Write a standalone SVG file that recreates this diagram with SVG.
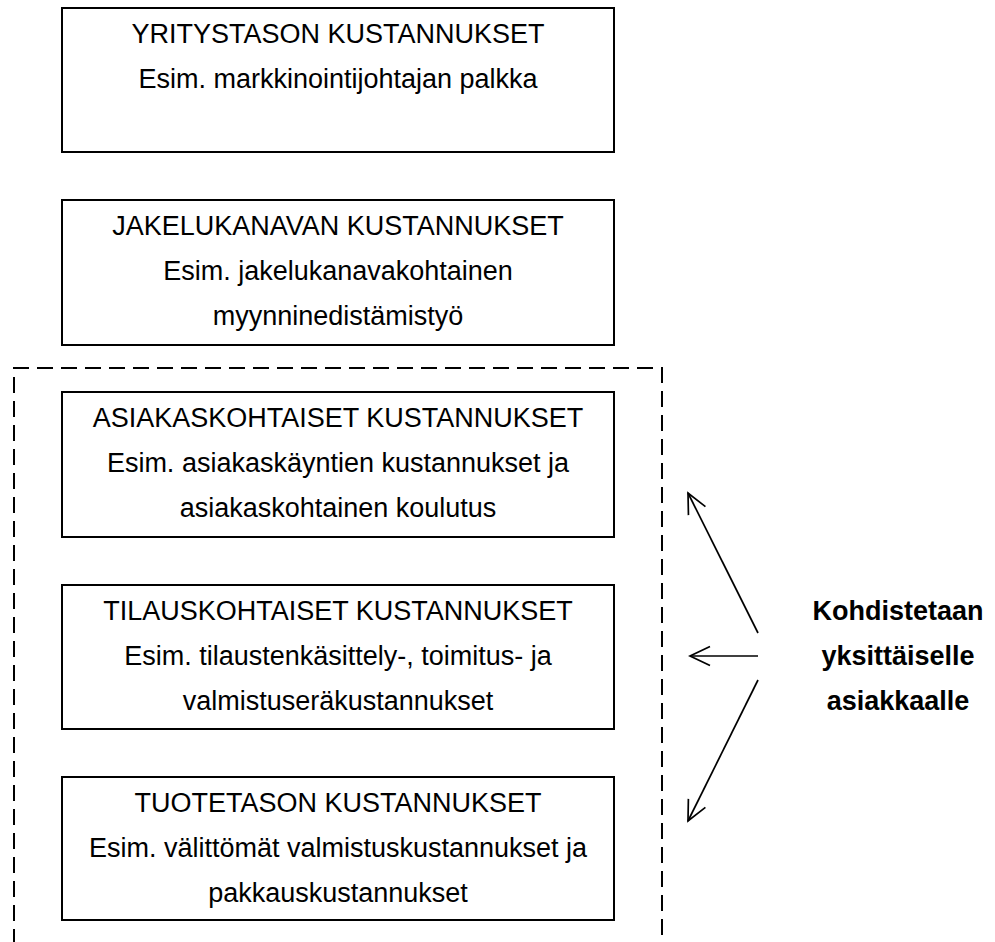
<svg xmlns="http://www.w3.org/2000/svg" width="995" height="942" viewBox="0 0 995 942">
  <style>
    .box { fill: #ffffff; stroke: #000000; stroke-width: 2; }
    .frame { fill: none; stroke: #000000; stroke-width: 2; stroke-dasharray: 16 8; }
    .t { font-family: "Liberation Sans", Arial, sans-serif; font-size: 27px; fill: #000000; text-anchor: middle; }
    .b { font-weight: bold; }
    .arrow { fill: none; stroke: #000000; stroke-width: 1.7; }
  </style>
  <defs>
    <marker id="open" markerWidth="24" markerHeight="24" refX="21" refY="11" orient="auto" markerUnits="userSpaceOnUse">
      <path d="M1,1.5 L21,11 L1,20.5" fill="none" stroke="#000000" stroke-width="1.7"/>
    </marker>
  </defs>
  <rect width="995" height="942" fill="#ffffff"/>

  <!-- dashed frame around the customer-level cost boxes -->
  <path id="frame" class="frame" d="M14,945 V368 H662 V945"/>

  <g id="yritystaso">
    <rect class="box" x="62" y="8" width="552" height="144"/>
    <text class="t" x="338" y="43">YRITYSTASON KUSTANNUKSET</text>
    <text class="t" x="338" y="88">Esim. markkinointijohtajan palkka</text>
  </g>

  <g id="jakelukanava">
    <rect class="box" x="62" y="200" width="552" height="145"/>
    <text class="t" x="338" y="235">JAKELUKANAVAN KUSTANNUKSET</text>
    <text class="t" x="338" y="280">Esim. jakelukanavakohtainen</text>
    <text class="t" x="338" y="325">myynninedistämistyö</text>
  </g>

  <g id="asiakaskohtaiset">
    <rect class="box" x="62" y="392" width="552" height="145"/>
    <text class="t" x="338" y="427">ASIAKASKOHTAISET KUSTANNUKSET</text>
    <text class="t" x="338" y="472">Esim. asiakaskäyntien kustannukset ja</text>
    <text class="t" x="338" y="517">asiakaskohtainen koulutus</text>
  </g>

  <g id="tilauskohtaiset">
    <rect class="box" x="62" y="585" width="552" height="144"/>
    <text class="t" x="338" y="620">TILAUSKOHTAISET KUSTANNUKSET</text>
    <text class="t" x="338" y="665">Esim. tilaustenkäsittely-, toimitus- ja</text>
    <text class="t" x="338" y="710">valmistuseräkustannukset</text>
  </g>

  <g id="tuotetaso">
    <rect class="box" x="62" y="777" width="552" height="143"/>
    <text class="t" x="338" y="812">TUOTETASON KUSTANNUKSET</text>
    <text class="t" x="338" y="857">Esim. välittömät valmistuskustannukset ja</text>
    <text class="t" x="338" y="902">pakkauskustannukset</text>
  </g>

  <g id="kohdistus">
    <text class="t b" x="898" y="620">Kohdistetaan</text>
    <text class="t b" x="898" y="665">yksittäiselle</text>
    <text class="t b" x="898" y="710">asiakkaalle</text>
  </g>

  <g id="connectors">
    <line class="arrow" x1="758" y1="633" x2="688" y2="493" marker-end="url(#open)"/>
    <line class="arrow" x1="758" y1="656" x2="690" y2="656" marker-end="url(#open)"/>
    <line class="arrow" x1="758" y1="680" x2="688" y2="821" marker-end="url(#open)"/>
  </g>
</svg>
